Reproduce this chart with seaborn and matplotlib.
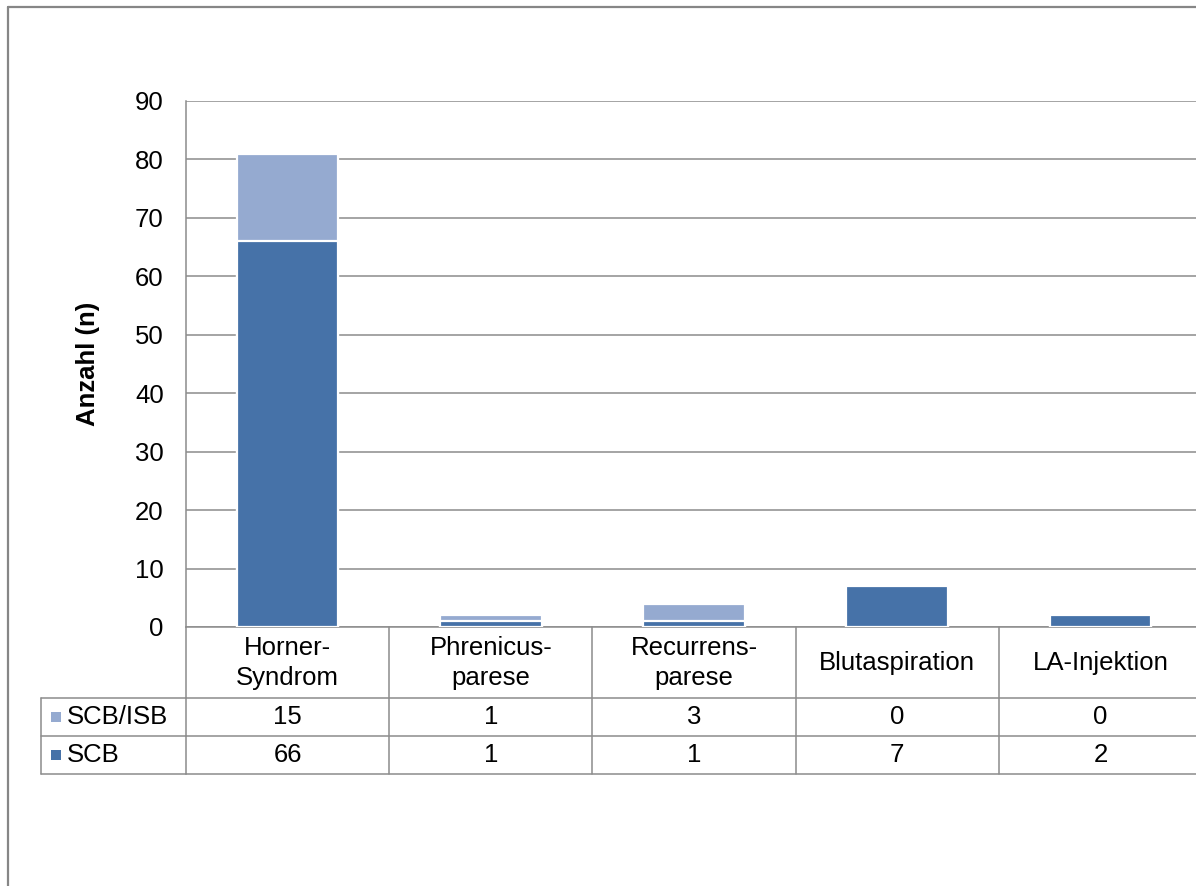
import matplotlib
matplotlib.use("Agg")
import matplotlib.pyplot as plt
import matplotlib.transforms as mtransforms
from matplotlib.lines import Line2D
from matplotlib.patches import Rectangle
import seaborn as sns
import pandas as pd

# Complications by block technique
categories = ["Horner-\nSyndrom", "Phrenicus-\nparese", "Recurrens-\nparese",
              "Blutaspiration", "LA-Injektion"]
scb_isb = [15, 1, 3, 0, 0]
scb = [66, 1, 1, 7, 2]
series_names = ["SCB/ISB", "SCB"]
y_ticks = [0, 10, 20, 30, 40, 50, 60, 70, 80, 90]

c_light = "#95aad0"
c_dark = "#4672a8"
c_grid = "#8c8c8c"

sns.set_style("white")
plt.rcParams["font.family"] = ["Liberation Sans", "DejaVu Sans"]
plt.rcParams["text.color"] = "black"
plt.rcParams["axes.labelcolor"] = "black"
plt.rcParams["ytick.color"] = "black"
plt.rcParams["xtick.color"] = "black"
FS = 18.5

W, H = 1196, 886
fig = plt.figure(figsize=(W / 100, H / 100), dpi=100)


def fx(px):
    return px / W


def fy(py):
    return 1 - py / H


ax = fig.add_axes([fx(186), fy(627), fx(1202) - fx(186), fy(101) - fy(627)])

df = pd.DataFrame({"cat": categories,
                   "total": [a + b for a, b in zip(scb_isb, scb)],
                   "scb": scb})

sns.barplot(data=df, x="cat", y="total", color=c_light, saturation=1,
            width=0.5, edgecolor="white", linewidth=1.6, ax=ax, zorder=3)
sns.barplot(data=df, x="cat", y="scb", color=c_dark, saturation=1,
            width=0.5, edgecolor="white", linewidth=1.6, ax=ax, zorder=4)

ax.set_xlim(-0.5, len(categories) - 0.5)
ax.set_ylim(0, 90)
ax.set_yticks(y_ticks)
ax.set_yticklabels([str(v) for v in y_ticks], fontsize=FS, color="black")
ax.tick_params(axis="y", length=0, pad=16)
ax.set_xticks([])
ax.set_xlabel("")
ax.set_ylabel("")
ax.yaxis.grid(True, color=c_grid, linewidth=1.1)
ax.set_axisbelow(True)
for side in ["top", "right"]:
    ax.spines[side].set_visible(False)
for side in ["left", "bottom"]:
    ax.spines[side].set_color(c_grid)
    ax.spines[side].set_linewidth(1.1)

fig.text(fx(88), fy(364), "Anzahl (n)", rotation=90, ha="center", va="center",
         fontsize=FS, fontweight="bold", color="black")

# Data table under the plot
tr = mtransforms.blended_transform_factory(ax.transData, fig.transFigure)
n = len(categories)
row_y = [627, 698, 736, 774]
line_kw = dict(color=c_grid, linewidth=1.1, clip_on=False)

for k in range(n + 1):
    xb = k - 0.5
    fig.add_artist(Line2D([xb, xb], [fy(627), fy(774)], transform=tr, **line_kw))
for py in row_y[1:]:
    fig.add_artist(Line2D([fx(41), fx(186)], [fy(py), fy(py)],
                          transform=fig.transFigure, **line_kw))
    fig.add_artist(Line2D([-0.5, n - 0.5], [fy(py), fy(py)], transform=tr, **line_kw))
fig.add_artist(Line2D([fx(41), fx(41)], [fy(698), fy(774)],
                      transform=fig.transFigure, **line_kw))

for i, cat in enumerate(categories):
    fig.text(i, fy(663), cat, transform=tr, ha="center", va="center",
             fontsize=FS, linespacing=1.3, color="black")
    fig.text(i, fy(717), str(scb_isb[i]), transform=tr, ha="center",
             va="center", fontsize=FS, color="black")
    fig.text(i, fy(755), str(scb[i]), transform=tr, ha="center",
             va="center", fontsize=FS, color="black")

for name, color, yc in [(series_names[0], c_light, 717), (series_names[1], c_dark, 755)]:
    fig.add_artist(Rectangle((fx(51), fy(yc + 5)), fx(10), fy(yc - 5) - fy(yc + 5),
                             transform=fig.transFigure, facecolor=color,
                             edgecolor="none"))
    fig.text(fx(67), fy(yc), name, ha="left", va="center", fontsize=FS,
             color="black")

# Chart-area frame
fig.add_artist(Line2D([fx(8), fx(8)], [fy(7), 0], transform=fig.transFigure,
                      color="#868686", linewidth=1.6))
fig.add_artist(Line2D([fx(8), 1], [fy(7), fy(7)], transform=fig.transFigure,
                      color="#868686", linewidth=1.6))

fig.savefig("out.png", dpi=100)
